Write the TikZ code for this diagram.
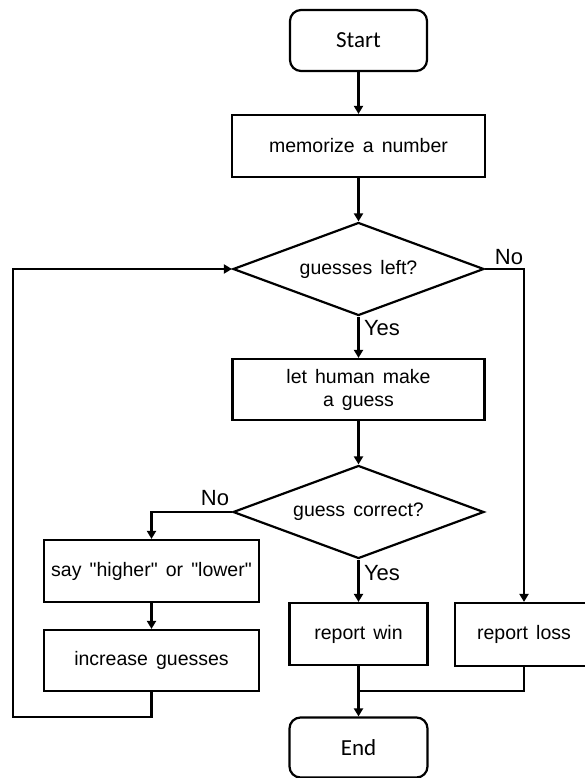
\documentclass[tikz,border=0pt]{standalone}
\usepackage{fontspec}
\setmainfont{Liberation Sans}[WordSpace=1.5]
\newfontfamily\termfont{Carlito}
\usetikzlibrary{shapes.geometric,arrows.meta}
\begin{document}
\begin{tikzpicture}[x=1pt,y=-1pt,
  every node/.style={font=\fontsize{19.5}{23}\selectfont, text=black},
  box/.style={draw, line width=2.2pt, rectangle, inner sep=0pt},
  term/.style={draw, line width=2.2pt, rectangle, rounded corners=11pt, inner sep=0pt, font=\termfont\fontsize{23}{27}\selectfont},
  dec/.style={draw, line width=2.2pt, diamond, aspect=2.7, inner sep=0pt, minimum width=251pt, minimum height=93pt},
  conn/.style={line width=2.2pt, -{Triangle[length=8pt,width=9pt]}},
  plain/.style={line width=2.2pt},
  lbl/.style={font=\fontsize{22}{26}\selectfont, inner sep=0pt}
]
\useasboundingbox (0,0) rectangle (585,778);
\clip (0,0) rectangle (585,778);

\node[term, minimum width=137pt, minimum height=61pt] (start) at (358.5,40.5) {Start};
\node[box, minimum width=253pt, minimum height=62pt] (mem) at (358.5,146) {memorize a number};
\node[dec] (d1) at (358.5,269) {guesses left?};
\node[box, minimum width=252pt, minimum height=61pt, align=center] (human) at (358.5,389.5) {let human make\\a guess};
\node[dec] (d2) at (358.5,512) {guess correct?};
\node[box, minimum width=215pt, minimum height=62pt] (say) at (151.5,571) {say \textquotedbl higher\textquotedbl{} or \textquotedbl lower\textquotedbl};
\node[box, minimum width=215pt, minimum height=61pt] (inc) at (151.5,660.5) {increase guesses};
\node[box, minimum width=138pt, minimum height=62pt] (win) at (358.5,634) {report win};
\node[box, minimum width=138pt, minimum height=63pt] (loss) at (524,634.5) {report loss};
\node[term, minimum width=138pt, minimum height=60pt] (end) at (358.5,747.5) {End};

\coordinate (noR) at (524,269);
\coordinate (noL) at (151.5,512);
\coordinate (loopA) at (151.5,717);
\coordinate (loopB) at (13,717);
\coordinate (loopC) at (13,269);
\coordinate (lossA) at (524,691);
\coordinate (join) at (358.5,691);

\draw[conn] (start) -- (mem);
\draw[conn] (mem) -- (d1);
\draw[conn] (d1.south) -- (human.north);
\draw[conn] (d1.east) -- (noR) -- (loss.north);
\draw[conn] (human) -- (d2);
\draw[conn] (d2.south) -- (win.north);
\draw[conn] (d2.west) -- (noL) -- (say.north);
\draw[conn] (say) -- (inc);
\draw[conn] (inc.south) -- (loopA) -- (loopB) -- (loopC) -- (d1.west);
\draw[conn] (win.south) -- (end.north);
\draw[plain] (loss.south) -- (lossA) -- (join);

\node[lbl] (yes1) at (382,328) {Yes};
\node[lbl] (no1) at (509,257) {No};
\node[lbl] (yes2) at (382,573) {Yes};
\node[lbl] (no2) at (215,498) {No};
\end{tikzpicture}
\end{document}
